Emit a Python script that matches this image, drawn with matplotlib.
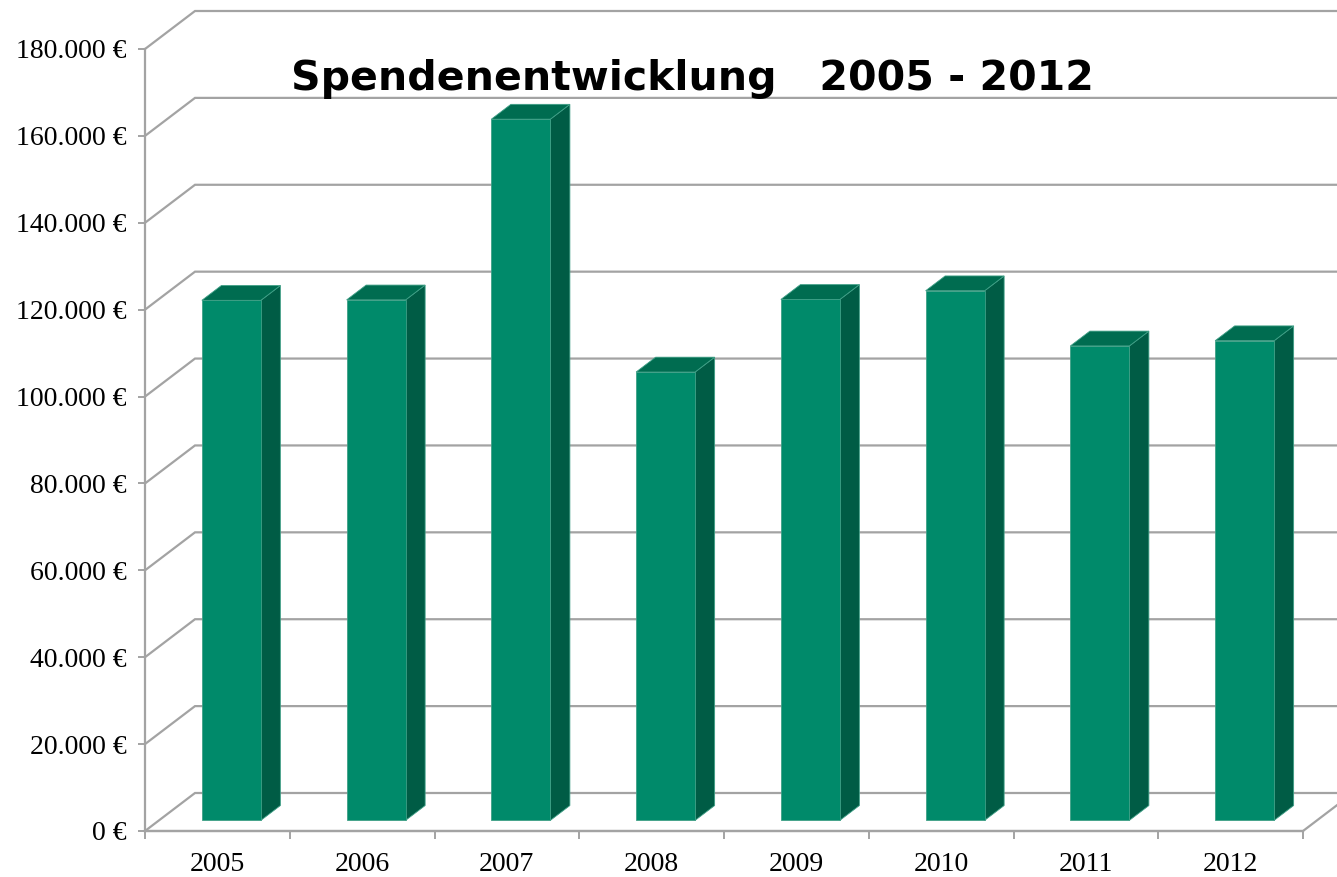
import matplotlib
matplotlib.use("Agg")
import matplotlib.pyplot as plt
from matplotlib.patches import Polygon
from matplotlib.ticker import FuncFormatter, MultipleLocator, FixedLocator

years = ["2005", "2006", "2007", "2008", "2009", "2010", "2011", "2012"]
donations = [119700, 119800, 161400, 103200, 119900, 121900, 109200, 110400]
title = "Spendenentwicklung   2005 - 2012"

y_max = 180000
y_step = 20000

W, H = 1337, 877
fig = plt.figure(figsize=(W / 100, H / 100), dpi=100)
# front plane of the 3D box in pixels: x 145..1303, y 831 (0) .. 49 (max)
left_px, right_px, bottom_px, top_px = 145, 1303, 831, 49
ax = fig.add_axes([left_px / W, (H - bottom_px) / H,
                   (right_px - left_px) / W, (bottom_px - top_px) / H])
n = len(years)
ax.set_xlim(0, n)
ax.set_ylim(0, y_max)

# perspective offset (back wall) in data units
px_per_cat = (right_px - left_px) / n
px_per_val = (bottom_px - top_px) / y_max
DX = 50 / px_per_cat
DY = 38 / px_per_val

grid_col = "#a3a3a3"
t = 0
while t <= y_max:
    ax.plot([0, DX, n + 1.0], [t, t + DY, t + DY], color=grid_col, lw=1.6,
            clip_on=False, zorder=1, solid_joinstyle="miter")
    t += y_step
ax.plot([0, n, n + DX], [0, 0, DY], color=grid_col, lw=1.6, clip_on=False, zorder=1)

front_c = "#008a6a"
top_c = "#006c50"
side_c = "#005c45"
edge_c = "#3f9f86"

d_front, d_back = 0.28, 0.67
bar_w = 59 / px_per_cat
for i, v in enumerate(donations):
    x0 = i + 0.5 - bar_w / 2 + d_front * DX
    y0 = d_front * DY
    ox = (d_back - d_front) * DX
    oy = (d_back - d_front) * DY
    front = Polygon([(x0, y0), (x0 + bar_w, y0), (x0 + bar_w, y0 + v), (x0, y0 + v)],
                    closed=True, facecolor=front_c, edgecolor=edge_c, lw=0.6, zorder=3,
                    clip_on=False)
    top = Polygon([(x0, y0 + v), (x0 + bar_w, y0 + v), (x0 + bar_w + ox, y0 + v + oy),
                   (x0 + ox, y0 + v + oy)], closed=True, facecolor=top_c,
                  edgecolor=edge_c, lw=0.6, zorder=3, clip_on=False)
    side = Polygon([(x0 + bar_w, y0), (x0 + bar_w + ox, y0 + oy), (x0 + bar_w + ox, y0 + v + oy),
                    (x0 + bar_w, y0 + v)], closed=True, facecolor=side_c,
                   edgecolor=edge_c, lw=0.6, zorder=3, clip_on=False)
    for p in (side, top, front):
        ax.add_patch(p)

for s in ("top", "right"):
    ax.spines[s].set_visible(False)
for s in ("left", "bottom"):
    ax.spines[s].set_color(grid_col)
    ax.spines[s].set_linewidth(1.6)
    ax.spines[s].set_zorder(2)

ax.yaxis.set_major_locator(MultipleLocator(y_step))
ax.yaxis.set_major_formatter(FuncFormatter(lambda v, p: f"{int(round(v)):,}".replace(",", ".") + " €"))
ax.xaxis.set_major_locator(FixedLocator(range(n + 1)))
ax.xaxis.set_major_formatter(FuncFormatter(lambda v, p: ""))
ax.xaxis.set_minor_locator(FixedLocator([i + 0.5 for i in range(n)]))
ax.set_xticklabels(years, minor=True)

ax.tick_params(axis="y", which="major", length=5, width=1.4, color=grid_col, pad=8,
               labelsize=20, labelfontfamily="Liberation Serif")
ax.tick_params(axis="x", which="major", length=6, width=1.4, color=grid_col)
ax.tick_params(axis="x", which="minor", length=0, pad=15, labelsize=20,
               labelfontfamily="Liberation Serif")
ax.patch.set_visible(False)

fig.text(692 / W, 1 - 79 / H, title, ha="center", va="center",
         fontsize=29.5, fontweight="bold", family="DejaVu Sans", zorder=10)

fig.savefig("out.png", dpi=100)
